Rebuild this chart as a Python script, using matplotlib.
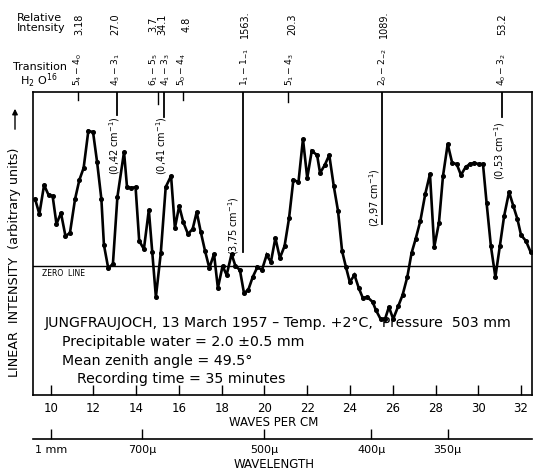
import matplotlib
matplotlib.use("Agg")
import matplotlib.pyplot as plt
import matplotlib.transforms as mtransforms

plt.rcParams['font.family'] = ['DejaVu Sans']
plt.rcParams['mathtext.fontset'] = 'dejavusans'

# ---------------- data ----------------
wavenumber = [9.27, 9.47, 9.69, 9.90, 10.09, 10.27, 10.48, 10.69, 10.90, 11.14,
              11.34, 11.54, 11.76, 11.98, 12.17, 12.37, 12.49, 12.69, 12.91, 13.12,
              13.43, 13.57, 13.77, 13.97, 14.14, 14.36, 14.59, 14.75, 14.92, 15.15,
              15.38, 15.63, 15.81, 16.01, 16.20, 16.42, 16.64, 16.83, 17.02, 17.22,
              17.42, 17.64, 17.82, 18.04, 18.23, 18.46, 18.64, 18.85, 19.04, 19.24,
              19.45, 19.67, 19.88, 20.10, 20.30, 20.51, 20.72, 20.94, 21.15, 21.35,
              21.59, 21.80, 22.00, 22.21, 22.46, 22.60, 22.82, 23.03, 23.24, 23.44,
              23.63, 23.81, 23.99, 24.21, 24.41, 24.60, 24.81, 25.06, 25.21, 25.43,
              25.64, 25.82, 26.02, 26.26, 26.46, 26.68, 26.88, 27.07, 27.29, 27.52,
              27.74, 27.94, 28.16, 28.35, 28.57, 28.78, 28.99, 29.19, 29.41, 29.61,
              29.80, 30.02, 30.22, 30.39, 30.59, 30.80, 31.01, 31.21, 31.44, 31.64,
              31.83, 32.00, 32.23, 32.45]
intensity = [67, 52, 81, 71, 70, 42, 53, 30, 33, 67,
             86, 98, 135, 134, 104, 67, 21, -2, 2, 69,
             114, 79, 78, 79, 25, 17, 56, 14, -31, 13,
             79, 90, 38, 60, 44, 32, 37, 54, 34, 15,
             -2, 12, -22, 0, -9, 12, 0, -4, -27, -24,
             -11, -1, -4, 11, 4, 28, 8, 20, 48, 86,
             84, 127, 88, 115, 111, 93, 101, 111, 80, 55,
             15, -1, -16, -9, -22, -32, -31, -36, -44, -53,
             -53, -41, -53, -40, -29, -11, 13, 27, 45, 72,
             92, 19, 43, 90, 122, 103, 102, 91, 99, 102,
             103, 102, 102, 63, 20, -11, 20, 50, 74, 60,
             47, 31, 25, 14]

x_ticks = [10, 12, 14, 16, 18, 20, 22, 24, 26, 28, 30, 32]

wavelength_um = [1000, 700, 500, 400, 350]
wavelength_labels = ["1 mm", "700\u03bc", "500\u03bc", "400\u03bc", "350\u03bc"]

# transitions: position (cm^-1), label, relative intensity
trans_pos = [11.28, 13.09, 15.02, 15.28, 16.19, 19.02, 21.10, 25.52, 31.11]
trans_label = [r"$5_4-4_0$", r"$4_3-3_1$", r"$6_1-5_5$", r"$4_1-3_3$", r"$5_0-4_4$",
               r"$1_1-1_{-1}$", r"$5_1-4_3$", r"$2_0-2_{-2}$", r"$4_0-3_2$"]
rel_intensity = ["3.18", "27.0", "3.7", "34.1", "4.8", "1563.", "20.3", "1089.", "53.2"]
label_xpos = [11.26, 13.05, 14.84, 15.36, 16.14, 19.08, 21.18, 25.55, 31.12]
ri_xpos = [11.33, 13.02, 14.78, 15.22, 16.34, 19.09, 21.28, 25.60, 31.14]

# long vertical marker lines with half-widths
line_pos = [13.09, 15.30, 18.98, 25.51, 31.09]
line_bottom = [151, 149, 14, 42, 149]
width_text = ["(0,42 cm$^{-1}$)", "(0,41 cm$^{-1}$)", "(3,75 cm$^{-1}$)",
              "(2,97 cm$^{-1}$)", "(0,53 cm$^{-1}$)"]
width_text_x = [12.97, 15.19, 18.55, 25.16, 31.01]
width_text_top = [150, 150, 70, 98, 145]

W, H = 533, 472
fig = plt.figure(figsize=(W / 100, H / 100), dpi=100)
L, R, T, B = 33, 531.5, 92, 395
ax = fig.add_axes([L / W, 1 - B / H, (R - L) / W, (B - T) / H])
ax.set_xlim(9.172, 32.49)
ax.set_ylim(-129, 174)

ax.plot(wavenumber, intensity, color='black', lw=1.9, marker='o', ms=2.6,
        solid_joinstyle='miter', zorder=3)
ax.axhline(0, color='black', lw=1.0)
ax.text(9.6, -2.5, "ZERO  LINE", fontsize=5.5, va='top', ha='left')

for s in ax.spines.values():
    s.set_linewidth(1.2)

ax.set_xticks(x_ticks)
ax.set_xticklabels([str(t) for t in x_ticks], fontsize=8.5)
ax.tick_params(axis='x', direction='in', length=7, width=1.0, pad=5, top=False)
ax.tick_params(axis='y', left=False, labelleft=False)

# top transition ticks (short)
trans_tick_len = [8, 0, 12, 0, 8, 0, 10, 0, 0]
bt = mtransforms.blended_transform_factory(ax.transData, ax.transAxes)
px = 1.0 / (B - T)
for p, ln in zip(trans_pos, trans_tick_len):
    if ln > 0:
        ax.plot([p, p], [1, 1 - ln * px], transform=bt, color='black', lw=1.0, clip_on=False)

# long vertical lines
for p, b in zip(line_pos, line_bottom):
    ax.plot([p, p], [174, b], color='black', lw=1.3)
for xt, yt, t in zip(width_text_x, width_text_top, width_text):
    ax.text(xt, yt, t, fontsize=7, rotation=90, ha='center', va='top')

# transition labels above the axes
for xl, lab in zip(label_xpos, trans_label):
    ax.text(xl, 1 + 6 * px, lab, transform=bt, rotation=90, fontsize=6.6,
            ha='center', va='bottom', clip_on=False)
for xr, ri in zip(ri_xpos, rel_intensity):
    ax.text(xr, 1 + (T - 24) * px, ri, transform=bt, rotation=90, fontsize=7,
            ha='center', va='center', clip_on=False)

fig.text(17 / W, 1 - 23 / H, "Relative\nIntensity", fontsize=8, ha='left', va='center',
         linespacing=0.95)
fig.text(13 / W, 1 - 67 / H, "Transition", fontsize=8, ha='left', va='center')
fig.text(20 / W, 1 - 81 / H, r"H$_2$ O$^{16}$", fontsize=8, ha='left', va='center')

# y label with arrow
fig.text(15 / W, 1 - 262 / H, "LINEAR  INTENSITY  (arbitrary units)", rotation=90,
         fontsize=9.2, ha='center', va='center')
fig.add_artist(matplotlib.patches.FancyArrowPatch((15 / W, 1 - 132 / H), (15 / W, 1 - 106 / H),
               transform=fig.transFigure, arrowstyle='-|>', mutation_scale=8,
               color='black', lw=1.0))

# x label
fig.text(274 / W, 1 - 423 / H, "WAVES PER CM", fontsize=8.5, ha='center', va='center')

# info block
info = [("JUNGFRAUJOCH, 13 March 1957 \u2013 Temp. +2\u00b0C,  Pressure  503 mm", 45, 323),
        ("Precipitable water = 2.0 \u00b10.5 mm", 62, 342),
        ("Mean zenith angle = 49.5\u00b0", 62, 361),
        ("Recording time = 35 minutes", 77, 379)]
for t, x0, y0 in info:
    fig.text(x0 / W, 1 - y0 / H, t, fontsize=10.2, ha='left', va='center')

# wavelength axis
ax2 = fig.add_axes([L / W, 1 - 439 / H, (R - L) / W, 0.001])
ax2.set_xlim(ax.get_xlim())
ax2.set_ylim(0, 1)
for k in ['top', 'left', 'right']:
    ax2.spines[k].set_visible(False)
ax2.spines['bottom'].set_linewidth(1.2)
ax2.patch.set_visible(False)
ax2.set_yticks([])
ax2.set_xticks([1e4 / w for w in wavelength_um])
ax2.set_xticklabels(wavelength_labels, fontsize=8)
ax2.tick_params(axis='x', direction='in', length=7, width=1.0, pad=4)
fig.text(274 / W, 1 - 464 / H, "WAVELENGTH", fontsize=8.5, ha='center', va='center')

fig.savefig("out.png", dpi=100)
